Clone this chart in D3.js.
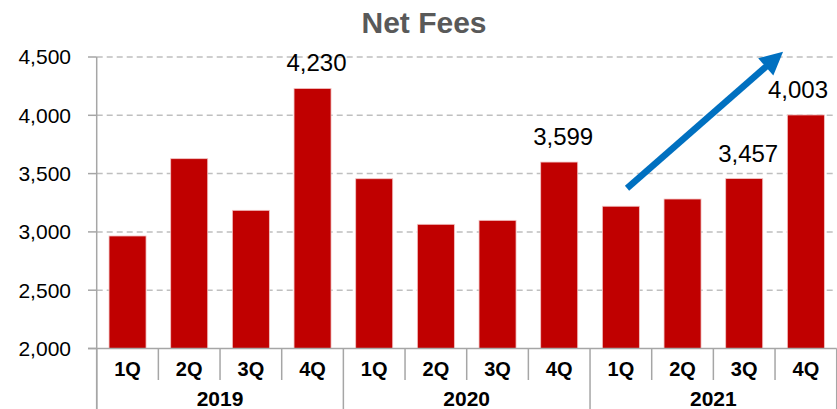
<!DOCTYPE html>
<html>
<head>
<meta charset="utf-8">
<script src="https://cdn.jsdelivr.net/npm/d3@7"></script>
<style>
  html, body { margin: 0; padding: 0; background: #fff; }
  svg { display: block; font-family: "Liberation Sans", Arial, sans-serif; }
</style>
</head>
<body>
<div id="chart"></div>
<script>
// Net fees by quarter, 2019-2021
const years    = ['2019', '2020', '2021'];
const quarters = ['1Q', '2Q', '3Q', '4Q'];
const values   = [2965, 3628, 3185, 4230,
                  3456, 3065, 3099, 3599,
                  3220, 3282, 3457, 4003];
// only these bars carry a value label
const labelled = [3, 7, 10, 11];
const yTicks   = [2000, 2500, 3000, 3500, 4000, 4500];
// trend arrow, in data terms: [bar index + fraction of band, value]
const arrowFrom = [8.6, 3374];
const arrowTo   = [11.13, 4545];

(function() {
const width = 837, height = 409;
const plotLeft = 96.7, plotRight = 836.7, plotTop = 57, plotBottom = 348.5;
const barColor = '#c00000';
const axisColor = '#a6a6a6';

const svg = d3.select('#chart').append('svg')
    .attr('width', width)
    .attr('height', height);

const idx = d3.range(values.length);
const x = d3.scaleBand()
    .domain(idx)
    .range([plotLeft, plotRight])
    .paddingInner(0.4)
    .paddingOuter(0.2);
const step = x.step();
const y = d3.scaleLinear().domain([2000, 4500]).range([plotBottom, plotTop]);

// Title
svg.append('text')
    .attr('x', 424).attr('y', 33)
    .attr('text-anchor', 'middle')
    .style('font-size', '30px')
    .style('font-weight', '700')
    .style('fill', '#595959')
    .text('Net Fees');

// Gridlines (dashed)
svg.append('g').selectAll('line')
    .data(yTicks.filter(t => t > 2000))
    .join('line')
    .attr('x1', plotLeft).attr('x2', plotRight - 4)
    .attr('y1', d => y(d)).attr('y2', d => y(d))
    .attr('stroke', '#bfbfbf')
    .attr('stroke-width', 1.5)
    .attr('stroke-dasharray', '6,4');

// Y axis labels + small ticks
const yAxis = svg.append('g');
yAxis.selectAll('line')
    .data(yTicks)
    .join('line')
    .attr('x1', 88).attr('x2', plotLeft)
    .attr('y1', d => y(d)).attr('y2', d => y(d))
    .attr('stroke', axisColor).attr('stroke-width', 1.5);
yAxis.selectAll('text')
    .data(yTicks)
    .join('text')
    .attr('x', 71).attr('y', d => y(d))
    .attr('dy', '0.35em')
    .attr('text-anchor', 'end')
    .style('font-size', '21px')
    .style('fill', '#000')
    .text(d => d3.format(',')(d));

// Bars
svg.append('g').selectAll('rect')
    .data(idx)
    .join('rect')
    .attr('x', i => x(i))
    .attr('y', i => y(values[i]))
    .attr('width', x.bandwidth())
    .attr('height', i => y(2000) - y(values[i]))
    .attr('fill', barColor)
    .attr('stroke', '#f2c4c4')
    .attr('stroke-width', 0.8);

// Value labels
svg.append('g').selectAll('text')
    .data(labelled)
    .join('text')
    .attr('x', i => Math.min(x(i) + x.bandwidth() / 2 + 4, width - 39))
    .attr('y', i => y(values[i]) - 17)
    .attr('text-anchor', 'middle')
    .style('font-size', '24px')
    .style('fill', '#000')
    .text(i => d3.format(',')(values[i]));

// Axis lines
const axes = svg.append('g')
    .attr('stroke', axisColor)
    .attr('stroke-width', 1.5);
axes.append('line')
    .attr('x1', plotLeft).attr('x2', plotLeft)
    .attr('y1', plotTop).attr('y2', height);
axes.append('line')
    .attr('x1', 88).attr('x2', plotRight)
    .attr('y1', plotBottom).attr('y2', plotBottom);

// Category separators: short between quarters, long between years
const bounds = d3.range(values.length + 1);
axes.selectAll('line.sep')
    .data(bounds)
    .join('line')
    .attr('class', 'sep')
    .attr('x1', b => plotLeft + b * step).attr('x2', b => plotLeft + b * step)
    .attr('y1', plotBottom)
    .attr('y2', b => b % quarters.length === 0 ? height : 380);

// Quarter labels
svg.append('g').selectAll('text')
    .data(idx)
    .join('text')
    .attr('x', i => x(i) + x.bandwidth() / 2)
    .attr('y', 375.5)
    .attr('text-anchor', 'middle')
    .style('font-size', '20px')
    .style('font-weight', '700')
    .style('fill', '#000')
    .text(i => quarters[i % quarters.length]);

// Year labels
svg.append('g').selectAll('text')
    .data(years)
    .join('text')
    .attr('x', (d, j) => plotLeft + (j + 0.5) * quarters.length * step)
    .attr('y', 406)
    .attr('text-anchor', 'middle')
    .style('font-size', '21px')
    .style('font-weight', '700')
    .style('fill', '#000')
    .text(d => d);

// Trend arrow
const bandStart = v => x(Math.floor(v[0])) - (step - x.bandwidth()) / 2 + (v[0] % 1) * step;
const ax1 = bandStart(arrowFrom), ay1 = y(arrowFrom[1]);
const ax2 = bandStart(arrowTo),   ay2 = y(arrowTo[1]);
const ang = Math.atan2(ay2 - ay1, ax2 - ax1);
const headLen = 23, headHalf = 11.5;
const bx = ax2 - headLen * Math.cos(ang), by = ay2 - headLen * Math.sin(ang);
svg.append('line')
    .attr('x1', ax1).attr('y1', ay1)
    .attr('x2', bx + 2 * Math.cos(ang)).attr('y2', by + 2 * Math.sin(ang))
    .attr('stroke', '#0070c0')
    .attr('stroke-width', 6.5);
svg.append('path')
    .attr('d', `M${ax2},${ay2}`
        + `L${bx - headHalf * Math.sin(ang)},${by + headHalf * Math.cos(ang)}`
        + `L${bx + headHalf * Math.sin(ang)},${by - headHalf * Math.cos(ang)}Z`)
    .attr('fill', '#0070c0');
})();
</script>
</body>
</html>
